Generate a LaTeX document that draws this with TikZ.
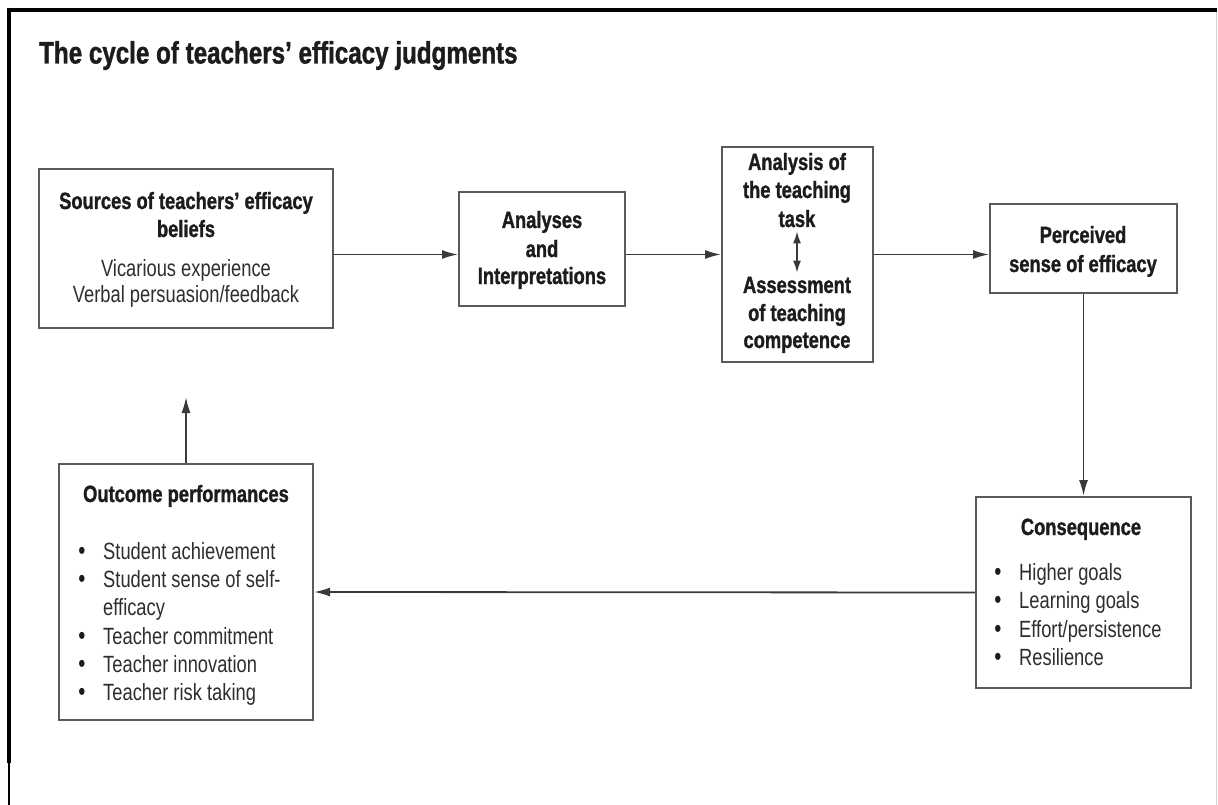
\documentclass[tikz,border=0pt]{standalone}
\usepackage{fontspec}
\setmainfont{Liberation Sans}[FakeStretch=0.78,BoldFeatures={FakeBold=1.2}]
\usetikzlibrary{arrows.meta}
\definecolor{boxgray}{HTML}{5A5A5A}
\definecolor{arrgray}{HTML}{3A3A3A}
\definecolor{txtdark}{HTML}{1C1C1C}
\definecolor{txtreg}{HTML}{2E2E2E}
\begin{document}
\begin{tikzpicture}[x=1pt,y=-1pt,
  boxnode/.style={draw=boxgray,line width=2pt,rectangle,inner sep=0pt,fill=none},
  bt/.style={anchor=base,inner sep=0pt,font=\fontsize{23.5}{26}\selectfont\bfseries,text=txtdark},
  rt/.style={anchor=base,inner sep=0pt,font=\fontsize{23.5}{26}\selectfont,text=txtreg},
  lt/.style={anchor=base west,inner sep=0pt,font=\fontsize{23.5}{26}\selectfont,text=txtreg},
  bul/.style={anchor=base,inner sep=0pt,font=\fontsize{26}{26}\selectfont,text=txtdark},
  arr/.style={draw=arrgray,line width=1.8pt,-{Latex[length=16pt,width=9pt]}},
  darr/.style={draw=arrgray,line width=1.5pt,{Latex[length=12pt,width=8pt]}-{Latex[length=12pt,width=8pt]},shorten <=4pt,shorten >=4pt}
]
\useasboundingbox (0,0) rectangle (1218,805);
\fill[white] (0,0) rectangle (1218,805);

% frame
\draw[black,line width=3.5pt] (7,10) -- (1217,10);
\draw[black,line width=4pt] (9,8) -- (9,763);
\draw[black,line width=2pt] (9,763) -- (9,805);
\draw[gray!35,line width=1pt] (1216,12) -- (1216,805);

% title
\node[anchor=base west,inner sep=0pt,font=\fontsize{31}{34}\selectfont\bfseries,text=txtdark] (title) at (39,63.5) {The cycle of teachers’ efficacy judgments};

% boxes
\node[boxnode,minimum width=294pt,minimum height=159pt] (src) at (186,248.5) {};
\node[boxnode,minimum width=166pt,minimum height=114pt] (ana) at (542,249) {};
\node[boxnode,minimum width=151pt,minimum height=215pt] (task) at (797.5,254.5) {};
\node[boxnode,minimum width=187pt,minimum height=89pt] (perc) at (1083.5,248.5) {};
\node[boxnode,minimum width=215pt,minimum height=191pt] (cons) at (1083.5,592.5) {};
\node[boxnode,minimum width=254pt,minimum height=256pt] (out) at (186,592) {};

% sources text
\node[bt] (s1) at (186,209) {Sources of teachers’ efficacy};
\node[bt] (s2) at (186,237) {beliefs};
\node[rt] (s3) at (186,276) {Vicarious experience};
\node[rt] (s4) at (186,302) {Verbal persuasion/feedback};

% analyses text
\node[bt] (a1) at (542,228) {Analyses};
\node[bt] (a2) at (542,257) {and};
\node[bt] (a3) at (542,284) {Interpretations};

% task text
\node[bt] (t1) at (797,170) {Analysis of};
\node[bt] (t2) at (797,198) {the teaching};
\node[bt] (t3) at (797,227) {task};
\node[bt] (t4) at (797,293) {Assessment};
\node[bt] (t5) at (797,321) {of teaching};
\node[bt] (t6) at (797,348) {competence};
\draw[darr] (t3.south) -- (t4.north);

% perceived text
\node[bt] (p1) at (1083,243) {Perceived};
\node[bt] (p2) at (1083,272) {sense of efficacy};

% consequence text
\node[bt] (c0) at (1081,535) {Consequence};
\node[bul] (cb1) at (998,580) {•};
\node[lt] (c1) at (1019,580) {Higher goals};
\node[bul] (cb2) at (998,608) {•};
\node[lt] (c2) at (1019,608) {Learning goals};
\node[bul] (cb3) at (998,637) {•};
\node[lt] (c3) at (1019,637) {Effort/persistence};
\node[bul] (cb4) at (998,665) {•};
\node[lt] (c4) at (1019,665) {Resilience};

% outcome text
\node[bt] (o0) at (186,502) {Outcome performances};
\node[bul] (ob1) at (82,559) {•};
\node[lt] (o1) at (103,559) {Student achievement};
\node[bul] (ob2) at (82,587) {•};
\node[lt] (o2) at (103,587) {Student sense of self-};
\node[lt] (o3) at (103,615) {efficacy};
\node[bul] (ob4) at (82,644) {•};
\node[lt] (o4) at (103,644) {Teacher commitment};
\node[bul] (ob5) at (82,672) {•};
\node[lt] (o5) at (103,672) {Teacher innovation};
\node[bul] (ob6) at (82,700) {•};
\node[lt] (o6) at (103,700) {Teacher risk taking};

% connectors
\coordinate (upend) at (186,397);
\draw[arr] (src.east |- task.center) -- (ana.west |- task.center);
\draw[arr] (ana.east |- task.center) -- (task.west);
\draw[arr] (task.east) -- (perc.west |- task.center);
\draw[arr] (perc.south) -- (cons.north);
\draw[arr] (cons.west) -- (out.east);
\draw[arr] (out.north) -- (upend);
\end{tikzpicture}
\end{document}
